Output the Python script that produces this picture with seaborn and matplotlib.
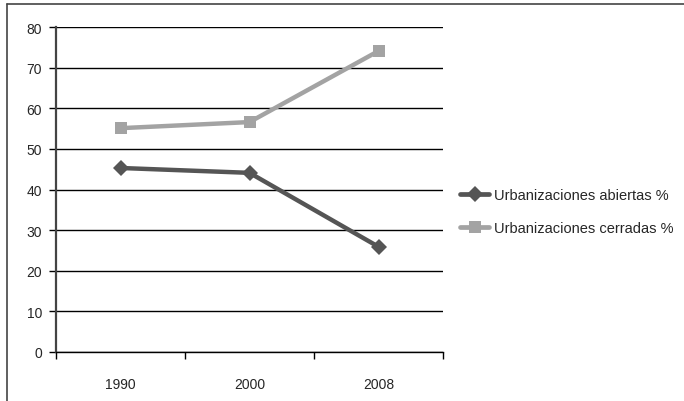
import matplotlib
matplotlib.use("Agg")
import matplotlib.pyplot as plt
import seaborn as sns
import pandas as pd
from matplotlib.lines import Line2D

years = ["1990", "2000", "2008"]
abiertas = [45.3, 44.1, 25.9]
cerradas = [55.1, 56.6, 74.1]
series_names = ["Urbanizaciones abiertas %", "Urbanizaciones cerradas %"]
yticks = [0, 10, 20, 30, 40, 50, 60, 70, 80]

df = pd.DataFrame({
    "year": years * 2,
    "value": abiertas + cerradas,
    "serie": [series_names[0]] * 3 + [series_names[1]] * 3,
})

sns.set_style("white")
plt.rcParams["font.family"] = ["Liberation Sans", "DejaVu Sans"]

fig = plt.figure(figsize=(6.84, 4.02), dpi=100)
ax = fig.add_axes([0.0819, 0.1219, 0.5658, 0.8084])

colors = {series_names[0]: "#555555", series_names[1]: "#a3a3a3"}
markers = {series_names[0]: "D", series_names[1]: "s"}
sns.lineplot(data=df, x="year", y="value", hue="serie", style="serie",
             palette=colors, markers=markers, dashes=False, linewidth=3.2,
             markersize=8, markeredgewidth=0, ax=ax, legend=False, zorder=3)

ax.set_xlim(-0.5, 2.5)
ax.set_ylim(0, 80)
ax.set_yticks(yticks)
ax.set_yticklabels([str(t) for t in yticks], fontsize=10)
ax.yaxis.grid(True, color="black", linewidth=1.0)
ax.set_axisbelow(True)
ax.set_xlabel("")
ax.set_ylabel("")

ax.set_xticks([-0.5, 0.5, 1.5, 2.5])
ax.set_xticklabels([])
ax.set_xticks([0, 1, 2], minor=True)
ax.set_xticklabels(years, minor=True, fontsize=10)
ax.tick_params(axis="x", which="major", direction="out", length=5, width=1, color="black", bottom=True)
ax.tick_params(axis="x", which="minor", length=0, pad=18)
ax.tick_params(axis="y", direction="out", length=5, width=1, color="black", left=True, pad=5)

for s in ["top", "right"]:
    ax.spines[s].set_visible(False)
ax.spines["left"].set_color("#444444")
ax.spines["left"].set_linewidth(1.6)
ax.spines["bottom"].set_color("black")
ax.spines["bottom"].set_linewidth(1.0)

handles = [Line2D([], [], color=colors[n], marker=markers[n], markersize=8,
                  markeredgewidth=0, linewidth=3.4) for n in series_names]
fig.legend(handles, series_names, loc="upper left", bbox_to_anchor=(0.664, 0.545),
           frameon=False, fontsize=10.5, handlelength=2.0, handletextpad=0.35,
           labelspacing=1.3, borderaxespad=0)

# outer frame
fig.add_artist(Line2D([0.0102, 0.0102], [0.0, 0.988], color="#444444", linewidth=1.2,
                      transform=fig.transFigure))
fig.add_artist(Line2D([0.0102, 1.0], [0.988, 0.988], color="#444444", linewidth=1.2,
                      transform=fig.transFigure))

fig.savefig("out.png", dpi=100)
